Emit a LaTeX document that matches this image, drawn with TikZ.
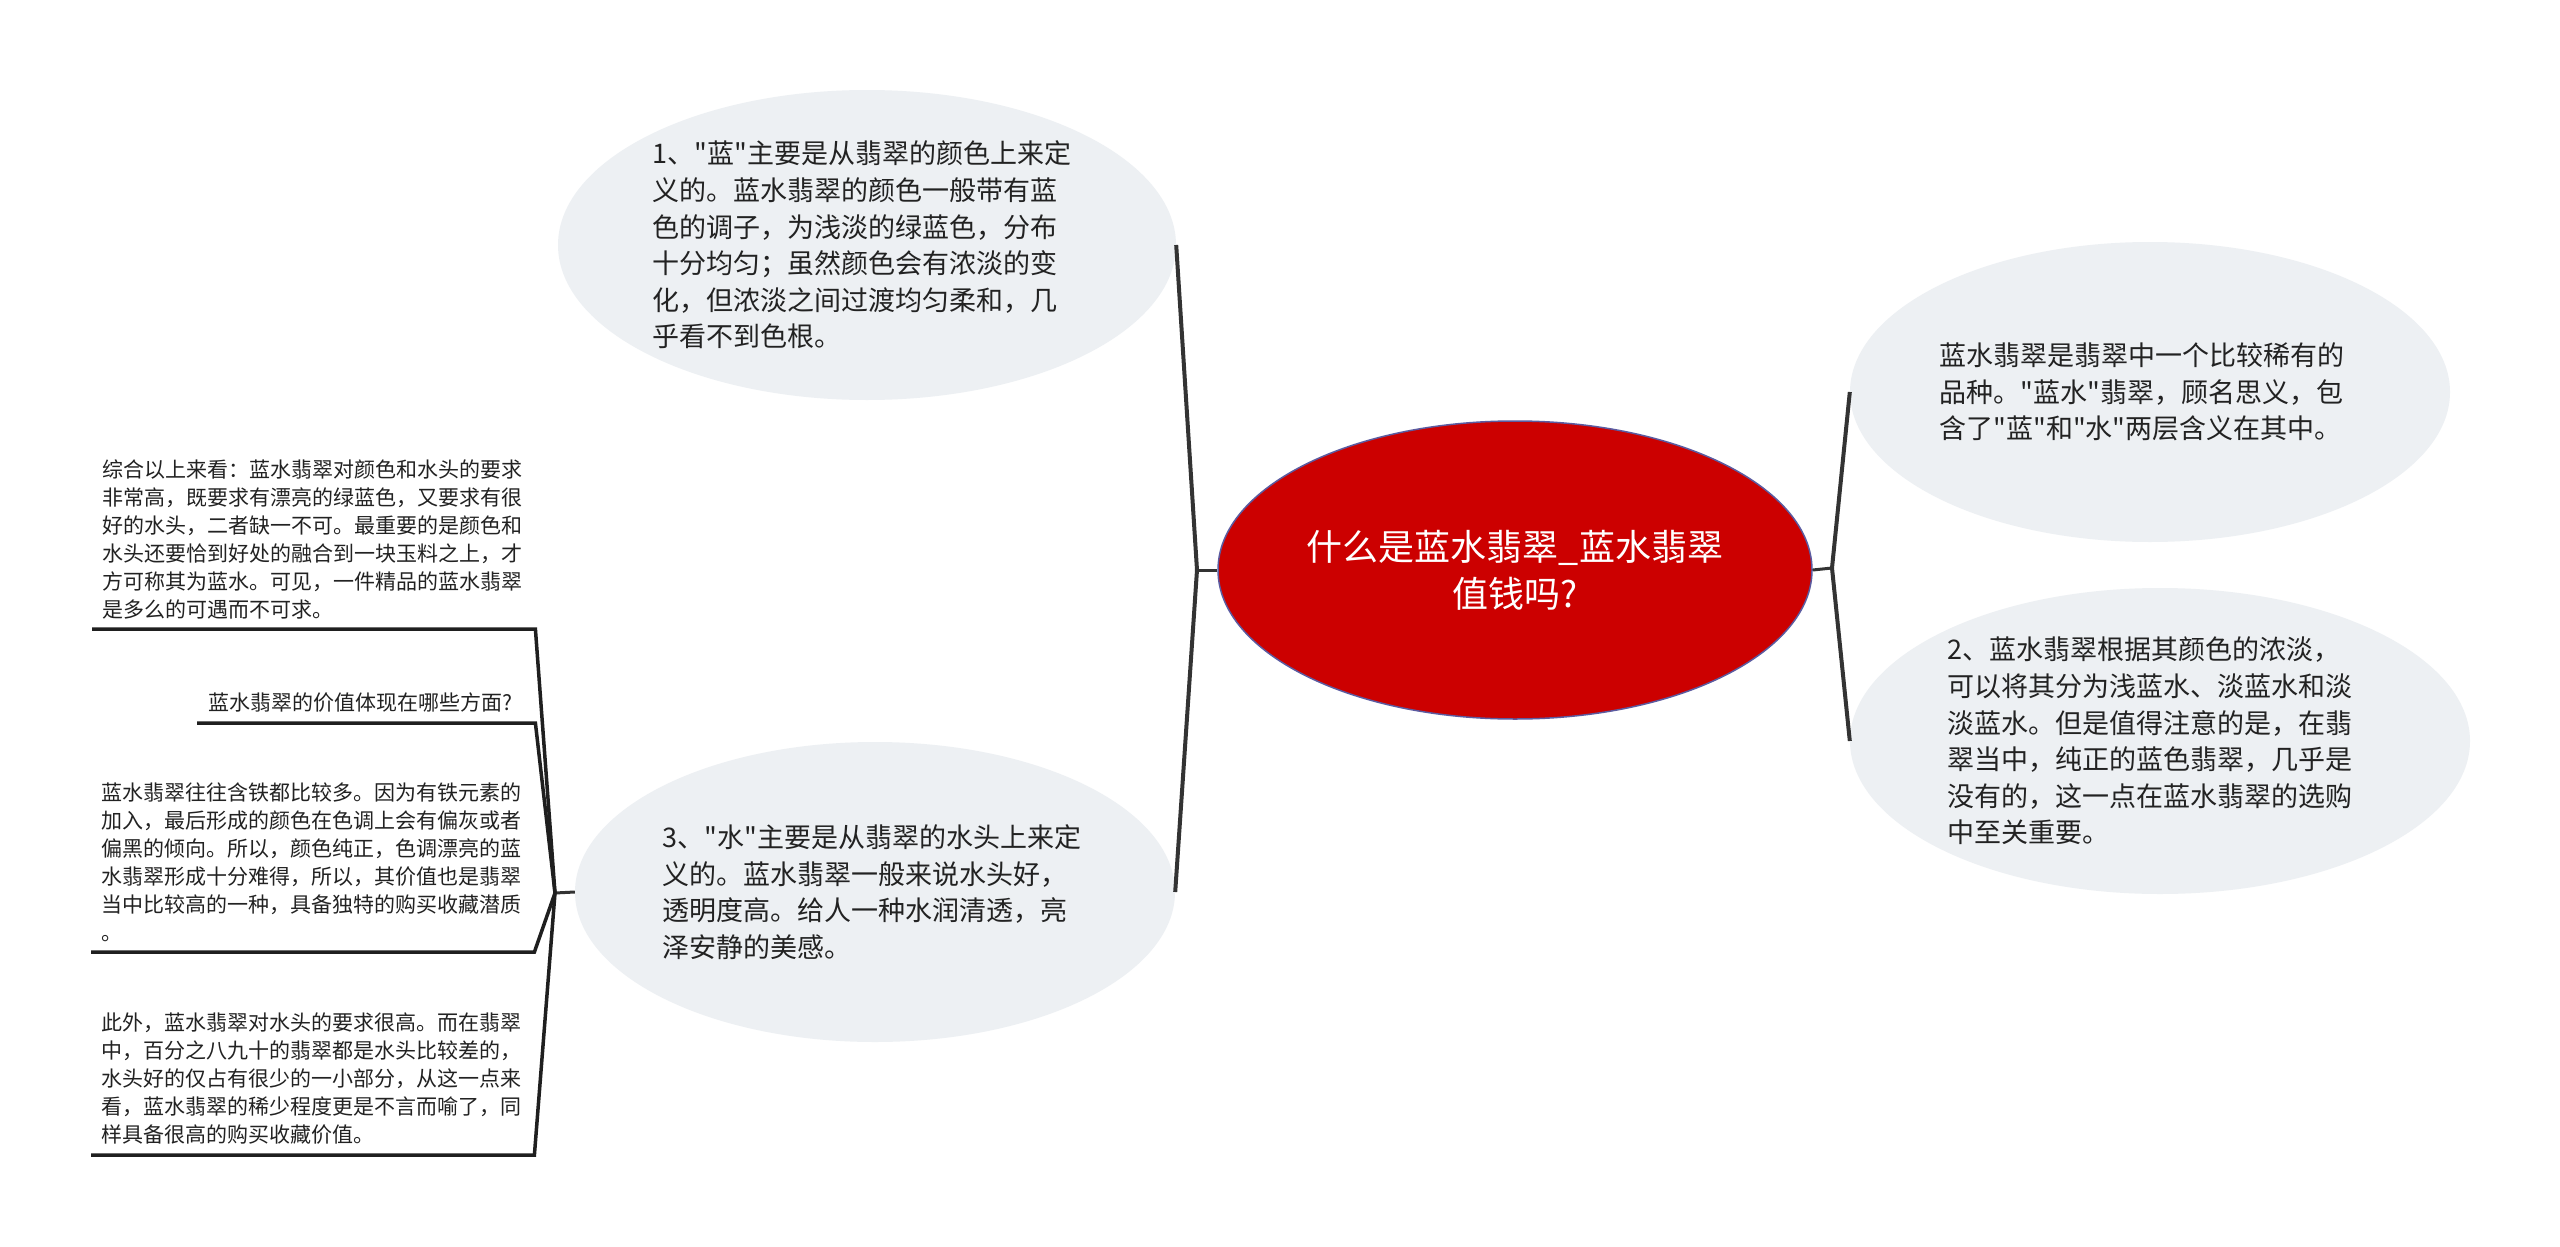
\documentclass[tikz,border=0pt]{standalone}
\usepackage{fontspec}
\newfontfamily\cjk{Noto Sans CJK SC}
\usetikzlibrary{shapes.geometric}
\definecolor{bubfill}{HTML}{EDF0F3}
\definecolor{rootred}{HTML}{CC0000}
\definecolor{rootedge}{HTML}{5B5BA0}
\definecolor{linec}{HTML}{333333}
\definecolor{txt}{HTML}{222222}
\begin{document}
\begin{tikzpicture}[x=1pt,y=-1pt,
  bub/.style={ellipse, fill=bubfill, draw=none, inner sep=0pt},
  bubtext/.style={align=left, font=\cjk\fontsize{27}{36.6}\selectfont, text=txt, inner sep=0pt},
  roottext/.style={align=center, font=\cjk\fontsize{36}{47}\selectfont, text=white, inner sep=0pt},
  leaf/.style={align=left, font=\cjk\fontsize{21}{28}\selectfont, text=txt, inner xsep=10pt, inner ysep=10pt, anchor=south west},
  conn/.style={draw=linec, line width=4pt, line join=miter},
  stub/.style={draw=linec, line width=3pt},
  uline/.style={draw=black!88, line width=3.5pt, line join=miter}]
\useasboundingbox[fill=white] (0,0) rectangle (2560,1247);

% central topic
\node[ellipse, fill=rootred, draw=rootedge, line width=1.5pt, inner sep=0pt,
      minimum width=594, minimum height=298] (c) at (1515,570) {};
\node[roottext] (ct) at (c.center) {什么是蓝水翡翠\_蓝水翡翠\\值钱吗?};

% bubbles
\node[bub, minimum width=618, minimum height=310] (e1) at (867,245) {};
\node[bubtext] (t1) at ([xshift=-5pt]e1.center) {1、"蓝"主要是从翡翠的颜色上来定\\义的。蓝水翡翠的颜色一般带有蓝\\色的调子，为浅淡的绿蓝色，分布\\十分均匀；虽然颜色会有浓淡的变\\化，但浓淡之间过渡均匀柔和，几\\乎看不到色根。};

\node[bub, minimum width=600, minimum height=300] (e4) at (875,892) {};
\node[bubtext] (t4) at ([xshift=-3pt]e4.center) {3、"水"主要是从翡翠的水头上来定\\义的。蓝水翡翠一般来说水头好，\\透明度高。给人一种水润清透，亮\\泽安静的美感。};

\node[bub, minimum width=600, minimum height=300] (e2) at (2150,392) {};
\node[bubtext] (t2) at ([xshift=-8pt]e2.center) {蓝水翡翠是翡翠中一个比较稀有的\\品种。"蓝水"翡翠，顾名思义，包\\含了"蓝"和"水"两层含义在其中。};

\node[bub, minimum width=620, minimum height=306] (e3) at (2160,741) {};
\node[bubtext] (t3) at ([xshift=-10pt]e3.center) {2、蓝水翡翠根据其颜色的浓淡，\\可以将其分为浅蓝水、淡蓝水和淡\\淡蓝水。但是值得注意的是，在翡\\翠当中，纯正的蓝色翡翠，几乎是\\没有的，这一点在蓝水翡翠的选购\\中至关重要。};

% leaves
\node[leaf, text width=423] (l1) at (92,629) {综合以上来看：蓝水翡翠对颜色和水头的要求\\非常高，既要求有漂亮的绿蓝色，又要求有很\\好的水头，二者缺一不可。最重要的是颜色和\\水头还要恰到好处的融合到一块玉料之上，才\\方可称其为蓝水。可见，一件精品的蓝水翡翠\\是多么的可遇而不可求。};
\node[leaf, text width=316, inner xsep=11pt] (l2) at (197,723) {蓝水翡翠的价值体现在哪些方面?};
\node[leaf, text width=423] (l3) at (91,952) {蓝水翡翠往往含铁都比较多。因为有铁元素的\\加入，最后形成的颜色在色调上会有偏灰或者\\偏黑的倾向。所以，颜色纯正，色调漂亮的蓝\\水翡翠形成十分难得，所以，其价值也是翡翠\\当中比较高的一种，具备独特的购买收藏潜质\\。};
\node[leaf, text width=423] (l4) at (91,1155) {此外，蓝水翡翠对水头的要求很高。而在翡翠\\中，百分之八九十的翡翠都是水头比较差的，\\水头好的仅占有很少的一小部分，从这一点来\\看，蓝水翡翠的稀少程度更是不言而喻了，同\\样具备很高的购买收藏价值。};

% junctions
\coordinate (jL) at (1197,570);
\coordinate (jR) at (1832,568);
\coordinate (jL4) at (555,893);

% connectors
\draw[stub] (c.west) -- (jL);
\draw[conn] (e1.east) -- (jL) -- (e4.east);
\draw[stub] (c.east) -- (jR);
\draw[conn] (e2.west) -- (jR) -- (e3.west);
\draw[stub] (e4.west) -- (jL4);
\draw[uline] (l1.south west) -- (l1.south east) -- (jL4);
\draw[uline] (l2.south west) -- (l2.south east) -- (jL4);
\draw[uline] (l3.south west) -- (l3.south east) -- (jL4);
\draw[uline] (l4.south west) -- (l4.south east) -- (jL4);
\end{tikzpicture}
\end{document}
